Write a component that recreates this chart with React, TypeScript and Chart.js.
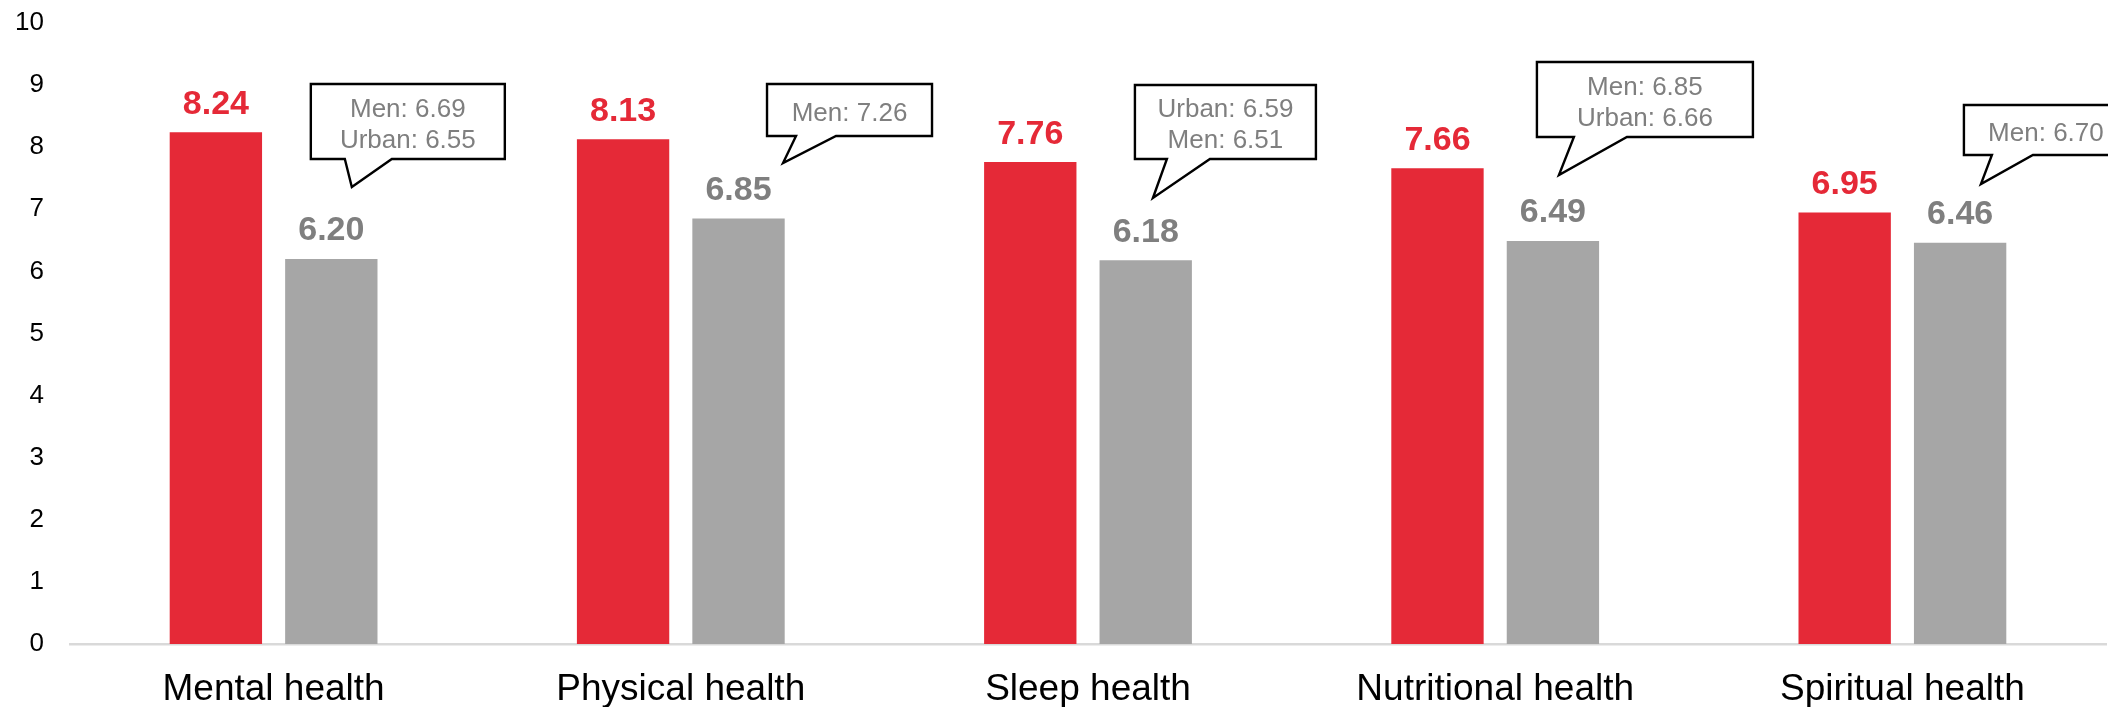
import React, { useEffect, useRef } from "react";
import { Chart, registerables } from "chart.js";

Chart.register(...registerables);

// ---- data ----
const categories = [
  "Mental health",
  "Physical health",
  "Sleep health",
  "Nutritional health",
  "Spiritual health",
];
const highlightValues = [8.24, 8.13, 7.76, 7.66, 6.95];
const averageValues = [6.2, 6.85, 6.18, 6.49, 6.46];
const yMin = 0;
const yMax = 10;
const yStep = 1;
const calloutLines = [
  ["Men: 6.69", "Urban: 6.55"],
  ["Men: 7.26"],
  ["Urban: 6.59", "Men: 6.51"],
  ["Men: 6.85", "Urban: 6.66"],
  ["Men: 6.70"],
];

// ---- styles ----
const FONT = '"Liberation Sans", Arial, Helvetica, sans-serif';
const RED = "#E52937";
const GRAY = "#A6A6A6";
const LABEL_GRAY = "#7F7F7F";
const AXIS_GRAY = "#D9D9D9";

// callout shape offsets (pixels, relative to gray bar centre x and chart top)
const calloutShapes = [
  { dx: -20.5, w: 194, top: 61, bottom: 136, t1: 13.5, t2: 60.5, tipDx: 20.5, tipY: 164 },
  { dx: 28.5, w: 165, top: 61, bottom: 113, t1: 57.5, t2: 97.5, tipDx: 44.5, tipY: 140 },
  { dx: -10.8, w: 181, top: 62, bottom: 136, t1: 21.2, t2: 64.2, tipDx: 7.2, tipY: 175 },
  { dx: -16, w: 216, top: 39, bottom: 114, t1: 21, t2: 74, tipDx: 6, tipY: 152 },
  { dx: 3.8, w: 164, top: 82, bottom: 132, t1: 31.8, t2: 72.8, tipDx: 20.8, tipY: 161 },
];

const valueLabelPlugin = {
  id: "valueLabels",
  afterDatasetsDraw(chart: any) {
    const ctx = chart.ctx;
    ctx.save();
    ctx.font = `bold 34px ${FONT}`;
    ctx.textAlign = "center";
    ctx.textBaseline = "alphabetic";
    chart.data.datasets.forEach((ds: any, di: number) => {
      const meta = chart.getDatasetMeta(di);
      ctx.fillStyle = ds.labelColor;
      meta.data.forEach((bar: any, i: number) => {
        const v = ds.data[i] as number;
        ctx.fillText(v.toFixed(2), bar.x, bar.y - 18.5);
      });
    });
    ctx.restore();
  },
};

const calloutPlugin = {
  id: "callouts",
  afterDatasetsDraw(chart: any) {
    const ctx = chart.ctx;
    const top0 = chart.chartArea.top;
    const meta = chart.getDatasetMeta(1);
    ctx.save();
    calloutLines.forEach((lines, i) => {
      const s = calloutShapes[i];
      const bar = meta.data[i];
      if (!bar) return;
      const xc = bar.x;
      const left = xc + s.dx;
      const right = left + s.w;
      const top = top0 + s.top;
      const bottom = top0 + s.bottom;
      ctx.beginPath();
      ctx.moveTo(left, top);
      ctx.lineTo(right, top);
      ctx.lineTo(right, bottom);
      ctx.lineTo(xc + s.t2, bottom);
      ctx.lineTo(xc + s.tipDx, top0 + s.tipY);
      ctx.lineTo(xc + s.t1, bottom);
      ctx.lineTo(left, bottom);
      ctx.closePath();
      ctx.fillStyle = "#FFFFFF";
      ctx.fill();
      ctx.lineWidth = 2.4;
      ctx.strokeStyle = "#000000";
      ctx.lineJoin = "miter";
      ctx.stroke();

      ctx.font = `26px ${FONT}`;
      ctx.fillStyle = LABEL_GRAY;
      ctx.textAlign = "center";
      ctx.textBaseline = "alphabetic";
      const cy = (top + bottom) / 2;
      const n = lines.length;
      lines.forEach((t, li) => {
        const y = cy + (li - (n - 1) / 2) * 31 + 10.5;
        ctx.fillText(t, (left + right) / 2, y);
      });
    });
    ctx.restore();
  },
};

export default function App() {
  const canvasRef = useRef<HTMLCanvasElement | null>(null);

  useEffect(() => {
    const canvas = canvasRef.current;
    if (!canvas) return;
    const chart = new Chart(canvas, {
      type: "bar",
      data: {
        labels: categories,
        datasets: [
          {
            label: "Highlighted group",
            data: highlightValues,
            backgroundColor: RED,
            borderWidth: 0,
            categoryPercentage: 0.567,
            barPercentage: 0.8,
            labelColor: RED,
          } as any,
          {
            label: "Average",
            data: averageValues,
            backgroundColor: GRAY,
            borderWidth: 0,
            categoryPercentage: 0.567,
            barPercentage: 0.8,
            labelColor: LABEL_GRAY,
          } as any,
        ],
      },
      options: {
        animation: false,
        responsive: false,
        maintainAspectRatio: false,
        layout: { padding: { top: 23, right: 2, left: 0, bottom: 0 } },
        plugins: {
          legend: { display: false },
          tooltip: { enabled: false },
          title: { display: false },
        },
        scales: {
          x: {
            grid: { display: false, drawTicks: false },
            border: { display: true, color: AXIS_GRAY, width: 2.5 },
            ticks: {
              color: "#000000",
              font: { family: FONT, size: 37 },
              padding: 24,
              maxRotation: 0,
              autoSkip: false,
            },
            afterFit: (scale: any) => {
              scale.height = 63;
            },
          },
          y: {
            min: yMin,
            max: yMax,
            grid: { display: false, drawTicks: false },
            border: { display: false },
            ticks: {
              stepSize: yStep,
              color: "#000000",
              font: { family: FONT, size: 26 },
              padding: 26,
            },
            afterFit: (scale: any) => {
              scale.width = 70;
              scale.paddingTop = 0;
              scale.paddingBottom = 0;
            },
          },
        },
      },
      plugins: [valueLabelPlugin, calloutPlugin],
    });
    return () => chart.destroy();
  }, []);

  return (
    <div style={{ position: "absolute", left: 0, top: 0, width: 2108, height: 707, background: "#fff" }}>
      <canvas ref={canvasRef} width={2108} height={707} style={{ display: "block" }} />
    </div>
  );
}
